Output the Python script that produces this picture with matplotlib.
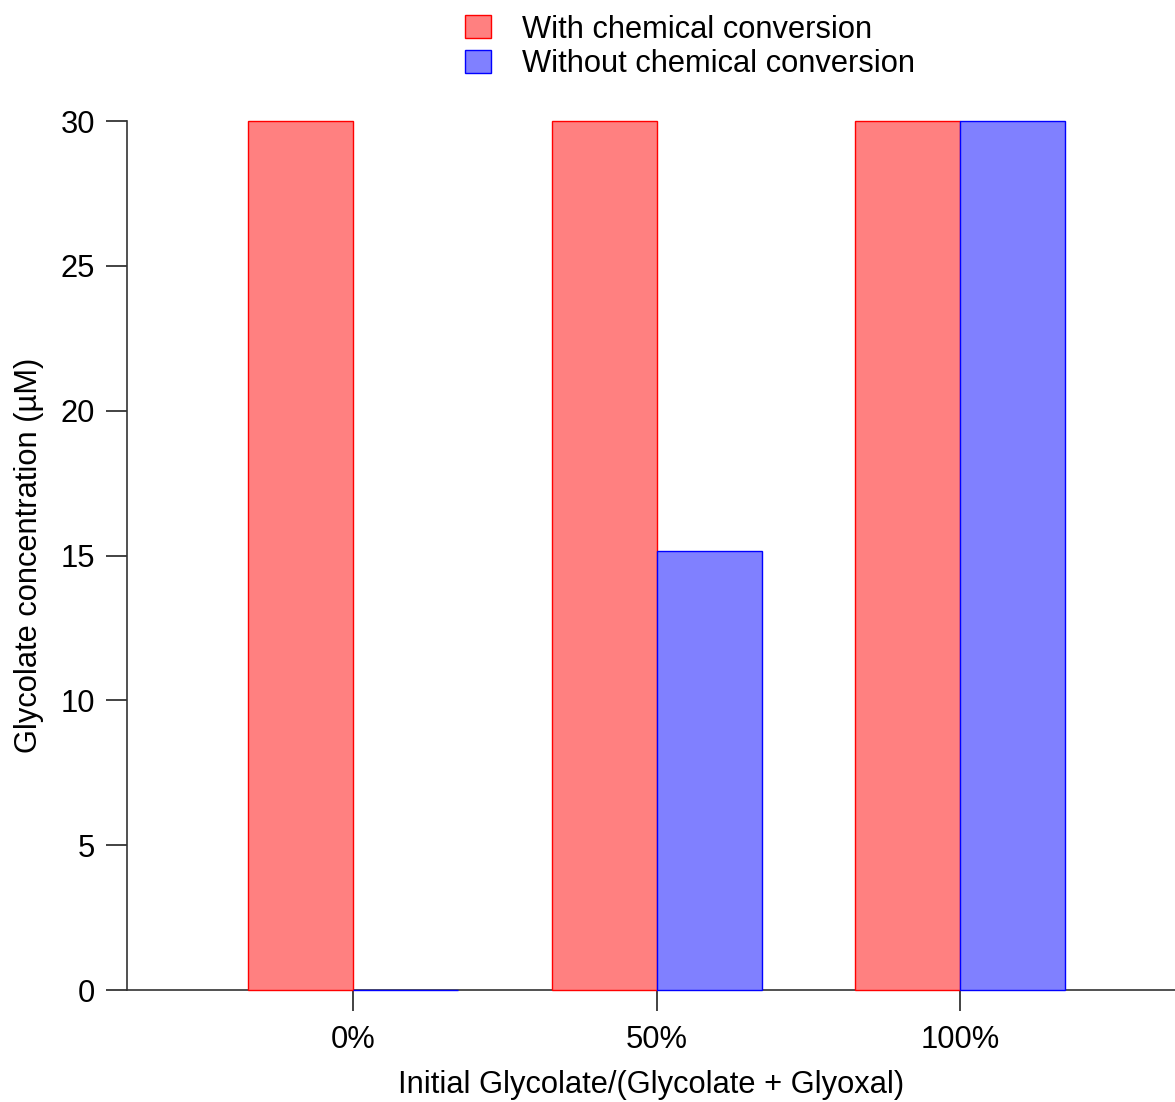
import matplotlib
matplotlib.use("Agg")
import matplotlib.pyplot as plt
import numpy as np

categories = ["0%", "50%", "100%"]
with_conv = [30.0, 30.0, 30.0]
without_conv = [0.0, 15.15, 30.0]
series_labels = ["With chemical conversion", "Without chemical conversion"]

matplotlib.rcParams["font.family"] = ["Liberation Sans", "DejaVu Sans"]
FS = 22.2

fig = plt.figure(figsize=(11.75, 11.02), dpi=100)
ax = fig.add_axes([127 / 1175, 1 - 990 / 1102, 1 - 127 / 1175, (990 - 121) / 1102])

x = np.arange(len(categories))
w = 0.346
ax.bar(x - w, with_conv, width=w, align="edge", color="#ff8080", edgecolor="#ff0000",
       linewidth=1.0, label=series_labels[0], zorder=3, clip_on=False)
ax.bar(x, without_conv, width=w, align="edge", color="#8080ff", edgecolor="#0000ff",
       linewidth=1.0, label=series_labels[1], zorder=3, clip_on=False)

ax.set_xlim(-0.745, 2.708)
ax.set_ylim(0, 30)
ax.set_yticks([0, 5, 10, 15, 20, 25, 30])
ax.set_xticks(x)
ax.set_xticklabels(categories)

for s in ["top", "right"]:
    ax.spines[s].set_visible(False)
for s in ["left", "bottom"]:
    ax.spines[s].set_color("#333333")
    ax.spines[s].set_linewidth(1.2)
    ax.spines[s].set_zorder(2)
ax.tick_params(axis="both", labelsize=FS, length=15, width=1.2, color="#222222")
ax.tick_params(axis="y", pad=8)
ax.tick_params(axis="x", pad=10)

ax.set_ylabel("Glycolate concentration (µM)", fontsize=FS, labelpad=12)
ax.set_xlabel("Initial Glycolate/(Glycolate + Glyoxal)", fontsize=FS, labelpad=11)

fig.legend(loc="upper center", bbox_to_anchor=(0.587, 1.012), frameon=False, fontsize=FS,
           handlelength=0.85, handleheight=0.75, handletextpad=1.0, labelspacing=0.15)

fig.savefig("out.png", dpi=100)
